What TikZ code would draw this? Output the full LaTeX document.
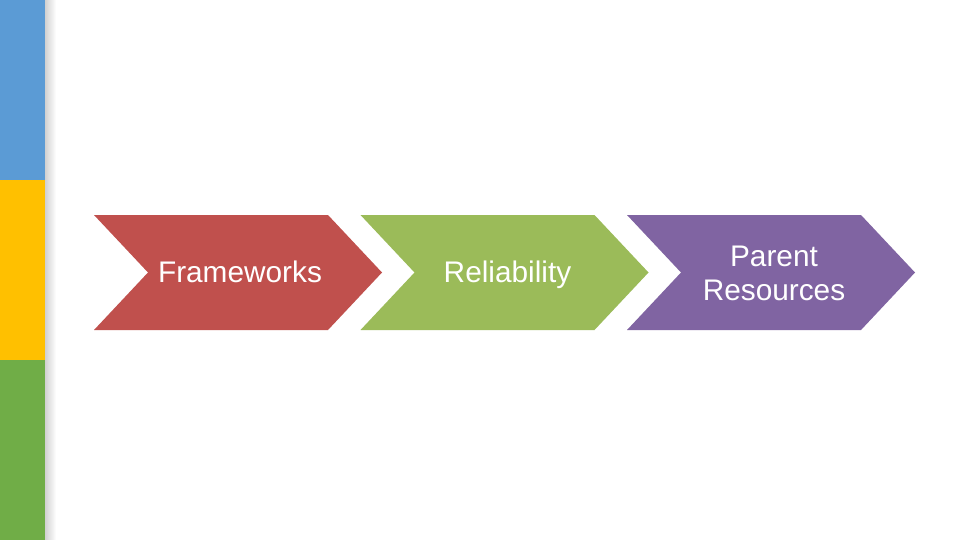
\documentclass[tikz,border=0pt]{standalone}
\usepackage{fontspec}
\setmainfont{Liberation Sans}
\definecolor{stripblue}{HTML}{5B9BD5}
\definecolor{stripyellow}{HTML}{FFC000}
\definecolor{stripgreen}{HTML}{70AD47}
\definecolor{chevred}{HTML}{C0504D}
\definecolor{chevgreen}{HTML}{9BBB59}
\definecolor{chevpurple}{HTML}{8064A2}
\begin{document}
\begin{tikzpicture}[x=1pt,y=-1pt,
  label/.style={text=white,align=center,font=\fontsize{29.8}{33.5}\selectfont,inner sep=0pt}]
\useasboundingbox (0,0) rectangle (960,540);
\fill[white] (0,0) rectangle (960,540);
% left strip
\shade[left color=black!18,right color=white] (45,0) rectangle (56,540);
\fill[stripblue] (0,0) rectangle (45,180);
\fill[stripyellow] (0,180) rectangle (45,360);
\fill[stripgreen] (0,360) rectangle (45,540);
% chevrons
\newcommand{\chevron}[2]{%
  \fill[#2] (#1,215) -- ++(234,0) -- ++(54,57.5) -- ++(-54,57.5) -- ++(-234,0) -- ++(54,-57.5) -- cycle;}
\chevron{94}{chevred}
\chevron{360.5}{chevgreen}
\chevron{627}{chevpurple}
\node[label,anchor=base] (fw) at (240,282) {Frameworks};
\node[label,anchor=base] (rel) at (507.5,282) {Reliability};
\node[label] (par) at (774,273.5) {Parent\\Resources};
\end{tikzpicture}
\end{document}
